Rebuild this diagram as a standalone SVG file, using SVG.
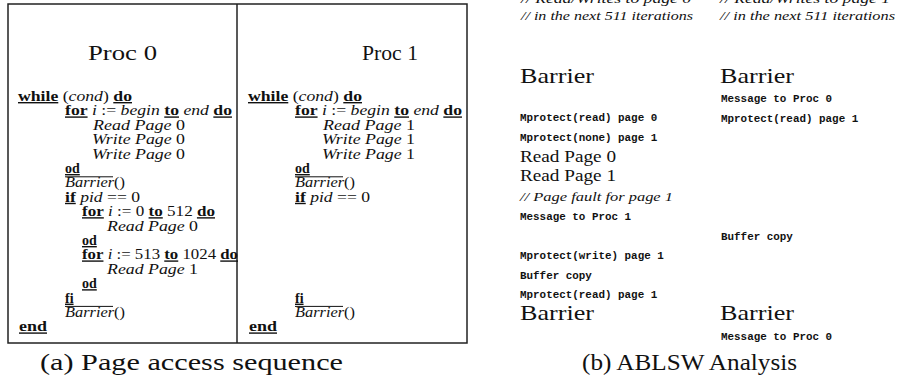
<svg xmlns="http://www.w3.org/2000/svg" width="897" height="379" viewBox="0 0 897 379">
  <style>
    text { fill: #111; }
    .c { font-family: "Liberation Serif", "DejaVu Serif", serif; font-size: 14px; }
    .k { font-weight: bold; text-decoration: underline; }
    .i { font-style: italic; }
    .title { font-family: "Liberation Serif", "DejaVu Serif", serif; font-size: 22px; }
    .cap { font-family: "Liberation Serif", "DejaVu Serif", serif; font-size: 23px; }
    .tt { font-family: "Liberation Mono", "DejaVu Sans Mono", monospace; font-size: 10.9px; font-weight: bold; }
    .cm { font-family: "Liberation Serif", "DejaVu Serif", serif; font-size: 13px; font-style: italic; }
    .rp { font-family: "Liberation Serif", "DejaVu Serif", serif; font-size: 16px; }
    .frame { fill: none; stroke: #222; stroke-width: 1.5; }
    .bar { stroke: #111; stroke-width: 1; }
  </style>

  <!-- (a) code listing frame with two processor columns -->
  <g id="panel-a">
    <rect class="frame" x="8" y="4" width="459" height="339"/>
    <line class="frame" x1="237" y1="4" x2="237" y2="343"/>
  </g>

  <g id="proc0">
    <text class="title" x="88" y="60" textLength="69" lengthAdjust="spacingAndGlyphs">Proc 0</text>
    <text class="c" x="18" y="101" textLength="114" lengthAdjust="spacingAndGlyphs"><tspan class="k">while</tspan> (<tspan class="i">cond</tspan>) <tspan class="k">do</tspan></text>
    <text class="c" x="65" y="115.4" textLength="167" lengthAdjust="spacingAndGlyphs"><tspan class="k">for</tspan> <tspan class="i">i</tspan> := <tspan class="i">begin</tspan> <tspan class="k">to</tspan> <tspan class="i">end</tspan> <tspan class="k">do</tspan></text>
    <text class="c" x="93" y="129.8" textLength="92" lengthAdjust="spacingAndGlyphs"><tspan class="i">Read Page</tspan> 0</text>
    <text class="c" x="92" y="144.2" textLength="93" lengthAdjust="spacingAndGlyphs"><tspan class="i">Write Page</tspan> 0</text>
    <text class="c" x="92" y="158.6" textLength="93" lengthAdjust="spacingAndGlyphs"><tspan class="i">Write Page</tspan> 0</text>
    <text class="c" x="65" y="173"><tspan class="k">od</tspan></text>
    <line class="bar" x1="65" y1="176.8" x2="113" y2="176.8"/>
    <text class="c" x="65" y="187.4" textLength="60" lengthAdjust="spacingAndGlyphs"><tspan class="i">Barrier</tspan>()</text>
    <text class="c" x="65" y="201.8" textLength="75" lengthAdjust="spacingAndGlyphs"><tspan class="k">if</tspan> <tspan class="i">pid</tspan> == 0</text>
    <text class="c" x="82" y="216.2" textLength="133" lengthAdjust="spacingAndGlyphs"><tspan class="k">for</tspan> <tspan class="i">i</tspan> := 0 <tspan class="k">to</tspan> 512 <tspan class="k">do</tspan></text>
    <text class="c" x="107" y="230.6" textLength="91" lengthAdjust="spacingAndGlyphs"><tspan class="i">Read Page</tspan> 0</text>
    <text class="c" x="82" y="245"><tspan class="k">od</tspan></text>
    <text class="c" x="82" y="259.4" textLength="156" lengthAdjust="spacingAndGlyphs"><tspan class="k">for</tspan> <tspan class="i">i</tspan> := 513 <tspan class="k">to</tspan> 1024 <tspan class="k">do</tspan></text>
    <text class="c" x="107" y="273.8" textLength="91" lengthAdjust="spacingAndGlyphs"><tspan class="i">Read Page</tspan> 1</text>
    <text class="c" x="82" y="288.2"><tspan class="k">od</tspan></text>
    <text class="c" x="65" y="302.6"><tspan class="k">fi</tspan></text>
    <line class="bar" x1="65" y1="306.4" x2="113" y2="306.4"/>
    <text class="c" x="65" y="317" textLength="60" lengthAdjust="spacingAndGlyphs"><tspan class="i">Barrier</tspan>()</text>
    <text class="c" x="19" y="331.4" textLength="28" lengthAdjust="spacingAndGlyphs"><tspan class="k">end</tspan></text>
  </g>

  <g id="proc1">
    <text class="title" x="362" y="60" textLength="56" lengthAdjust="spacingAndGlyphs">Proc 1</text>
    <text class="c" x="248" y="101" textLength="114" lengthAdjust="spacingAndGlyphs"><tspan class="k">while</tspan> (<tspan class="i">cond</tspan>) <tspan class="k">do</tspan></text>
    <text class="c" x="295" y="115.4" textLength="167" lengthAdjust="spacingAndGlyphs"><tspan class="k">for</tspan> <tspan class="i">i</tspan> := <tspan class="i">begin</tspan> <tspan class="k">to</tspan> <tspan class="i">end</tspan> <tspan class="k">do</tspan></text>
    <text class="c" x="323" y="129.8" textLength="92" lengthAdjust="spacingAndGlyphs"><tspan class="i">Read Page</tspan> 1</text>
    <text class="c" x="322" y="144.2" textLength="93" lengthAdjust="spacingAndGlyphs"><tspan class="i">Write Page</tspan> 1</text>
    <text class="c" x="322" y="158.6" textLength="93" lengthAdjust="spacingAndGlyphs"><tspan class="i">Write Page</tspan> 1</text>
    <text class="c" x="295" y="173"><tspan class="k">od</tspan></text>
    <line class="bar" x1="295" y1="176.8" x2="343" y2="176.8"/>
    <text class="c" x="295" y="187.4" textLength="60" lengthAdjust="spacingAndGlyphs"><tspan class="i">Barrier</tspan>()</text>
    <text class="c" x="295" y="201.8" textLength="75" lengthAdjust="spacingAndGlyphs"><tspan class="k">if</tspan> <tspan class="i">pid</tspan> == 0</text>
    <text class="c" x="295" y="302.6"><tspan class="k">fi</tspan></text>
    <line class="bar" x1="295" y1="306.4" x2="343" y2="306.4"/>
    <text class="c" x="295" y="317" textLength="60" lengthAdjust="spacingAndGlyphs"><tspan class="i">Barrier</tspan>()</text>
    <text class="c" x="249" y="331.4" textLength="28" lengthAdjust="spacingAndGlyphs"><tspan class="k">end</tspan></text>
  </g>

  <text class="cap" x="40" y="370" textLength="303" lengthAdjust="spacingAndGlyphs">(a) Page access sequence</text>

  <!-- (b) event timeline for each processor -->
  <g id="timeline-proc0">
    <text class="cm" x="521" y="2.5" textLength="170" lengthAdjust="spacingAndGlyphs">// Read/Writes to page 0</text>
    <text class="cm" x="521" y="20" textLength="172" lengthAdjust="spacingAndGlyphs">// in the next 511 iterations</text>
    <text class="title" x="520" y="83" textLength="74" lengthAdjust="spacingAndGlyphs">Barrier</text>
    <text class="tt" x="520" y="121">Mprotect(read) page 0</text>
    <text class="tt" x="520" y="141">Mprotect(none) page 1</text>
    <text class="rp" x="520" y="161.5" textLength="96" lengthAdjust="spacingAndGlyphs">Read Page 0</text>
    <text class="rp" x="520" y="181" textLength="96" lengthAdjust="spacingAndGlyphs">Read Page 1</text>
    <text class="cm" x="520" y="200.5" textLength="153" lengthAdjust="spacingAndGlyphs">// Page fault for page 1</text>
    <text class="tt" x="520" y="220">Message to Proc 1</text>
    <text class="tt" x="520" y="259">Mprotect(write) page 1</text>
    <text class="tt" x="520" y="279">Buffer copy</text>
    <text class="tt" x="520" y="298">Mprotect(read) page 1</text>
    <text class="title" x="520" y="320" textLength="74" lengthAdjust="spacingAndGlyphs">Barrier</text>
  </g>

  <g id="timeline-proc1">
    <text class="cm" x="720" y="2.5" textLength="170" lengthAdjust="spacingAndGlyphs">// Read/Writes to page 1</text>
    <text class="cm" x="720" y="20" textLength="175" lengthAdjust="spacingAndGlyphs">// in the next 511 iterations</text>
    <text class="title" x="720" y="83" textLength="74" lengthAdjust="spacingAndGlyphs">Barrier</text>
    <text class="tt" x="721" y="101.5">Message to Proc 0</text>
    <text class="tt" x="721" y="121.5">Mprotect(read) page 1</text>
    <text class="tt" x="721" y="240">Buffer copy</text>
    <text class="title" x="720" y="320" textLength="74" lengthAdjust="spacingAndGlyphs">Barrier</text>
    <text class="tt" x="721" y="340">Message to Proc 0</text>
  </g>

  <text class="cap" x="582" y="370" textLength="215" lengthAdjust="spacingAndGlyphs">(b) ABLSW Analysis</text>
</svg>
